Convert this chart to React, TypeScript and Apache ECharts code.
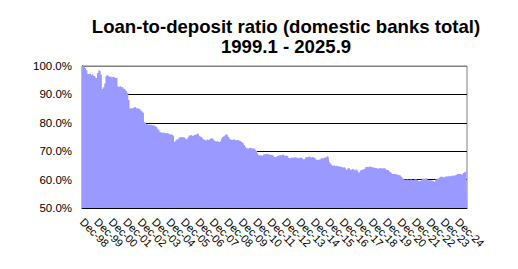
import React, { useEffect, useRef } from "react";
import * as echarts from "echarts";

const titleLines = ["Loan-to-deposit ratio (domestic banks total)", "1999.1 - 2025.9"];

const xTickLabels = [
  "Dec-98", "Dec-99", "Dec-00", "Dec-01", "Dec-02", "Dec-03", "Dec-04", "Dec-05", "Dec-06",
  "Dec-07", "Dec-08", "Dec-09", "Dec-10", "Dec-11", "Dec-12", "Dec-13", "Dec-14", "Dec-15",
  "Dec-16", "Dec-17", "Dec-18", "Dec-19", "Dec-20", "Dec-21", "Dec-22", "Dec-23", "Dec-24",
];

// monthly loan-to-deposit ratio (%), 1999.1 - 2025.9
const ratio = [
  100.0, 100.0, 99.6, 99.2, 98.4,
  97.2, 97.0, 97.3, 96.8, 97.1, 96.5,
  96.3, 95.8, 97.5,
  98.5, 98.2, 97.0,
  92.0, 92.5,
  93.8,
  96.4, 96.8, 96.5, 96.2, 96.3, 96.0, 96.2, 96.1, 95.8, 95.9,
  92.8, 92.6, 92.9, 92.5, 92.7,
  92.0, 91.8, 91.2, 90.5,
  88.0,
  85.0,
  85.2, 85.0, 85.3, 85.6, 85.4, 85.0, 85.2, 84.9,
  84.3, 84.0, 83.5,
  80.2, 80.0, 79.6,
  79.3, 79.4, 79.2, 79.3, 79.1, 79.0, 78.8, 78.6,
  77.9, 77.4, 76.8,
  76.5, 76.6, 76.4, 76.5, 76.3, 76.4, 76.2, 76.0, 75.9, 75.8,
  75.4,
  73.2,
  73.8, 74.2, 74.0,
  74.8, 75.0, 74.9,
  75.0, 74.8, 74.6,
  74.2, 74.8,
  75.5, 75.6, 75.8, 75.4, 75.6, 75.7, 75.9,
  76.2, 76.0,
  75.3, 75.0, 74.8,
  74.2, 74.0, 73.8, 74.1, 73.9, 74.0,
  74.5, 74.7, 74.4,
  73.8, 73.5, 73.4, 73.6, 73.2, 73.5,
  74.5, 75.0, 75.3, 75.6,
  76.0, 75.8, 75.0,
  74.2, 74.0, 73.9, 74.1, 74.0, 73.8, 73.9, 74.0, 73.7, 73.5, 73.2,
  72.8, 72.2, 71.6,
  71.0, 70.9, 71.1, 71.2, 71.0, 70.8, 71.0, 70.6, 70.2,
  69.2, 68.6, 68.5, 68.7, 68.4, 68.8,
  69.0, 68.9, 69.1, 68.8, 69.0, 68.7, 68.9, 68.5,
  68.0, 67.9, 68.2, 68.4,
  68.6, 68.7, 68.5, 68.8, 68.6, 68.4, 68.6, 68.3,
  67.6, 67.4,
  67.7, 67.8, 67.6, 67.9, 67.7, 67.8, 67.5, 67.7, 67.8, 67.6,
  67.2, 67.3,
  67.9, 68.0, 67.8, 68.1, 67.9, 67.8, 68.0, 67.7, 67.5,
  67.0, 66.9, 67.1, 67.0,
  67.5, 67.4, 67.6, 67.8, 67.9,
  68.2, 68.0,
  66.0, 65.5,
  65.0, 64.9, 65.1, 64.8, 65.0, 64.7, 64.6,
  64.4, 64.5, 64.3, 64.4, 64.0,
  63.5,
  64.0, 64.1,
  63.6, 63.4, 63.7, 63.5, 63.3, 63.6, 63.2,
  62.5, 62.7,
  63.4, 63.6, 63.5, 63.8,
  64.4, 64.5, 64.3, 64.6, 64.4, 64.5, 64.3, 64.2,
  64.0, 64.1, 63.9, 64.0, 64.2, 64.0, 63.8, 64.0, 63.9,
  63.5, 63.3, 63.4, 62.8, 62.4,
  62.0, 62.1, 61.9, 62.0, 61.8,
  61.6, 61.5, 61.4, 60.8, 60.3,
  60.0, 59.9, 60.1, 60.0, 59.9, 60.0, 60.1, 59.9, 60.0, 60.2, 60.0, 59.8,
  59.5, 59.4, 59.6,
  60.3, 60.4, 60.2, 60.5, 60.3,
  59.8, 59.9, 59.7, 59.8, 59.5,
  59.2,
  60.0, 60.3, 60.4, 60.6,
  61.0, 60.9, 61.1, 60.8, 61.0, 61.2, 61.0,
  61.2, 61.3, 61.1, 61.4, 61.2, 61.5, 61.6,
  62.0, 61.9, 62.1, 62.0, 61.8,
  62.3, 62.6, 62.8, 63.0,
];

const months: string[] = [];
for (let y = 1999; months.length < ratio.length; y++) {
  for (let m = 1; m <= 12 && months.length < ratio.length; m++) months.push(`${y}.${m}`);
}

const FONT = "'Liberation Sans', Arial, sans-serif";

export default function App() {
  const ref = useRef<HTMLDivElement>(null);
  useEffect(() => {
    if (!ref.current) return;
    const chart = echarts.init(ref.current, undefined, { renderer: "svg" });
    chart.setOption({
      animation: false,
      backgroundColor: "#ffffff",
      title: {
        text: titleLines.join("\n"),
        left: 281,
        top: 11,
        textAlign: "center",
        textStyle: {
          fontFamily: FONT,
          fontSize: 18.6,
          fontWeight: "bold",
          color: "#000",
          lineHeight: 20,
        },
      },
      grid: {
        left: 82,
        right: 51,
        top: 66,
        bottom: 61,
        containLabel: false,
        outerBoundsMode: "none",
        show: true,
        borderColor: "#808080",
        borderWidth: 1,
        backgroundColor: "transparent",
      },
      xAxis: {
        type: "category",
        data: months,
        boundaryGap: false,
        axisLine: { show: true, lineStyle: { color: "#000", width: 1 } },
        axisTick: {
          show: true,
          inside: true,
          length: 4,
          interval: (i: number) => i % 12 === 0,
          lineStyle: { color: "#000" },
        },
        axisLabel: {
          interval: 0,
          hideOverlap: false,
          rotate: -45,
          margin: 12,
          fontFamily: FONT,
          fontSize: 11,
          color: "#000",
          formatter: (_v: string, i: number) => (i % 12 === 0 ? xTickLabels[i / 12] ?? "" : ""),
        },
        splitLine: { show: false },
      },
      yAxis: {
        type: "value",
        min: 50,
        max: 100,
        interval: 10,
        axisLine: { show: true, lineStyle: { color: "#000", width: 1 } },
        axisTick: { show: false },
        axisLabel: {
          margin: 10,
          fontFamily: FONT,
          fontSize: 11.5,
          color: "#000",
          formatter: (v: number) => v.toFixed(1) + "%",
        },
        splitLine: {
          show: true,
          lineStyle: { color: ["#000", "#000", "#000", "#000", "#000", "#808080"], width: 1 },
        },
      },
      series: [
        {
          type: "line",
          data: ratio,
          step: "middle",
          symbol: "none",
          lineStyle: { width: 0 },
          itemStyle: { color: "#9999FF" },
          areaStyle: { color: "#9999FF", opacity: 1, origin: "start" },
          z: 3,
        },
      ],
    });
    return () => chart.dispose();
  }, []);
  return <div ref={ref} style={{ position: "fixed", left: 0, top: 0, width: 518, height: 269 }} />;
}
